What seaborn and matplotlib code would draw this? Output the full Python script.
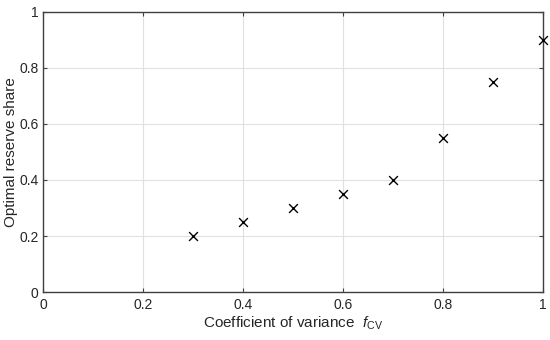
import matplotlib
matplotlib.use("Agg")
import matplotlib.pyplot as plt
import seaborn as sns
import pandas as pd

f_cv = [0.3, 0.4, 0.5, 0.6, 0.7, 0.8, 0.9, 1.0]
reserve_share = [0.2, 0.25, 0.3, 0.35, 0.4, 0.55, 0.75, 0.9]
x_ticks = [0, 0.2, 0.4, 0.6, 0.8, 1]
y_ticks = [0, 0.2, 0.4, 0.6, 0.8, 1]
x_labels = ["0", "0.2", "0.4", "0.6", "0.8", "1"]
y_labels = ["0", "0.2", "0.4", "0.6", "0.8", "1"]

sns.set_theme(style="whitegrid")
plt.rcParams['font.family'] = ['Liberation Sans', 'DejaVu Sans']
plt.rcParams['mathtext.fontset'] = 'custom'
plt.rcParams['mathtext.rm'] = 'Liberation Sans'
plt.rcParams['mathtext.it'] = 'Liberation Sans:italic'

df = pd.DataFrame({"x": f_cv, "y": reserve_share})

fig = plt.figure(figsize=(5.5, 3.4), dpi=100)
ax = fig.add_axes([0.078, 0.141, 0.909, 0.824])
sns.scatterplot(data=df, x="x", y="y", marker="x", color="black", s=40,
                linewidth=1.0, ax=ax, zorder=3, clip_on=False)
ax.set_xlim(0, 1)
ax.set_ylim(0, 1)
ax.set_xticks(x_ticks)
ax.set_xticklabels(x_labels)
ax.set_yticks(y_ticks)
ax.set_yticklabels(y_labels)
ax.grid(True, color="#e0e0e0", linewidth=0.8)
ax.set_facecolor("white")
for s in ax.spines.values():
    s.set_visible(True)
    s.set_color("#404040")
    s.set_linewidth(1.0)
ax.tick_params(direction="in", length=3, width=0.8, color="#404040",
               labelsize=10, labelcolor="#262626", pad=3,
               top=True, right=True, bottom=True, left=True)
ax.tick_params(axis="x", pad=4)
ax.set_xlabel(r"Coefficient of variance  $f_{\mathrm{CV}}$", fontsize=11, color="#262626", labelpad=2)
ax.set_ylabel("Optimal reserve share", fontsize=11, color="#262626", labelpad=1)
fig.savefig("out.png", dpi=100)
